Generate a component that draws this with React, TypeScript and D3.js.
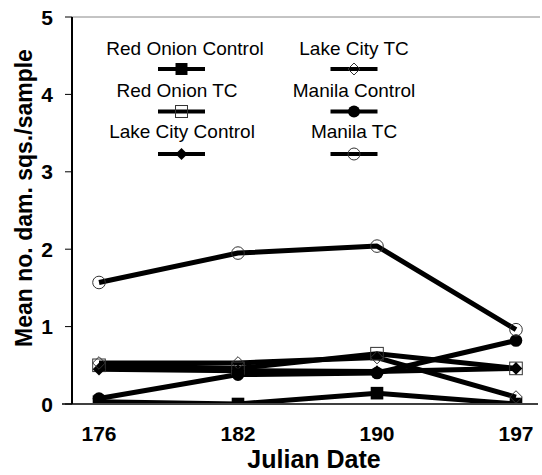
import React from "react";
import * as d3 from "d3";

const dates = ["176", "182", "190", "197"];
const yTicks = [0, 1, 2, 3, 4, 5];

const redOnionControl = [0.03, 0.0, 0.14, 0.0];
const redOnionTC = [0.5, 0.46, 0.65, 0.46];
const lakeCityControl = [0.45, 0.43, 0.42, 0.46];
const lakeCityTC = [0.53, 0.53, 0.6, 0.09];
const manilaControl = [0.07, 0.38, 0.4, 0.82];
const manilaTC = [1.57, 1.95, 2.04, 0.96];

type Shape = "filledSquare" | "openSquare" | "filledDiamond" | "openDiamond" | "filledCircle" | "openCircle";

const seriesNames = ["Red Onion Control", "Red Onion TC", "Lake City Control", "Lake City TC", "Manila Control", "Manila TC"];
const seriesValues = [redOnionControl, redOnionTC, lakeCityControl, lakeCityTC, manilaControl, manilaTC];
const seriesShapes: Shape[] = ["filledSquare", "openSquare", "filledDiamond", "openDiamond", "filledCircle", "openCircle"];

const W = 542;
const H = 475;
const FONT = "'Liberation Sans', Arial, Helvetica, sans-serif";

function Marker({ shape, x, y, s = 1 }: { shape: Shape; x: number; y: number; s?: number }) {
  const r = 6.3 * s;
  const thin = { fill: "none", stroke: "#333", strokeWidth: 1 };
  switch (shape) {
    case "filledSquare":
      return <rect x={x - r} y={y - r} width={2 * r} height={2 * r} fill="#000" />;
    case "openSquare":
      return <rect x={x - r} y={y - r} width={2 * r} height={2 * r} {...thin} />;
    case "filledDiamond":
      return <path d={`M${x},${y - r}L${x + r},${y}L${x},${y + r}L${x - r},${y}Z`} fill="#000" />;
    case "openDiamond":
      return <path d={`M${x},${y - r}L${x + r},${y}L${x},${y + r}L${x - r},${y}Z`} {...thin} />;
    case "filledCircle":
      return <circle cx={x} cy={y} r={r} fill="#000" />;
    case "openCircle":
      return <circle cx={x} cy={y} r={r} {...thin} />;
  }
}

export default function App() {
  const x = d3.scalePoint<string>().domain(dates).range([99, 516]);
  const y = d3.scaleLinear().domain([0, 5]).range([404, 17]);
  const line = d3
    .line<number>()
    .x((_, i) => x(dates[i]) as number)
    .y((d) => y(d));

  const textCenters = [185, 177, 182, 354, 354, 354];
  const legendItems = seriesNames.map((name, i) => {
    const col = i < 3 ? 0 : 1;
    const row = i % 3;
    const cx = col === 0 ? 181.5 : 354;
    const ty = 55 + row * 41.5;
    const ly = 69 + row * 42.5;
    return { name, shape: seriesShapes[i], cx, tx: textCenters[i], ty, ly };
  });

  return (
    <svg width={W} height={H} style={{ position: "absolute", left: 0, top: 0, background: "#fff" }} fontFamily={FONT}>
      <defs>
        <clipPath id="plotClip">
          <rect x={73} y={0} width={W - 73} height={y(0) - 1} />
        </clipPath>
      </defs>
      <rect x={0} y={0} width={W} height={H} fill="#fff" />

      <g clipPath="url(#plotClip)">
        {seriesValues.map((vals, i) => (
          <path key={"l" + i} d={line(vals) ?? ""} fill="none" stroke="#000" strokeWidth={5} strokeLinejoin="round" />
        ))}
        {seriesValues.map((vals, i) => (
          <g key={"m" + i}>
            {vals.map((v, j) => (
              <Marker key={j} shape={seriesShapes[i]} x={x(dates[j]) as number} y={y(v)} />
            ))}
          </g>
        ))}
      </g>

      {/* top frame line */}
      <line x1={72} x2={540} y1={y(5)} y2={y(5)} stroke="#888" strokeWidth={1} />
      {/* x axis */}
      <line x1={62} x2={538} y1={y(0)} y2={y(0)} stroke="#000" strokeWidth={1.5} />
      {/* y axis */}
      <line x1={72} x2={72} y1={y(5)} y2={y(0)} stroke="#000" strokeWidth={2} />
      {yTicks.map((t) => (
        <g key={t}>
          <line x1={65} x2={72} y1={y(t)} y2={y(t)} stroke="#000" strokeWidth={1} />
          <text x={47} y={y(t)} dy="0.36em" textAnchor="middle" fontWeight="bold" fontSize={21}>
            {t}
          </text>
        </g>
      ))}
      {dates.map((d) => (
        <text key={d} x={x(d)} y={441} textAnchor="middle" fontWeight="bold" fontSize={21}>
          {d}
        </text>
      ))}
      <text x={314} y={468} textAnchor="middle" fontWeight="bold" fontSize={25}>
        Julian Date
      </text>
      <text
        transform={`translate(32,198) rotate(-90)`}
        textAnchor="middle"
        fontWeight="bold"
        fontSize={23}
      >
        Mean no. dam. sqs./sample
      </text>

      {/* legend */}
      {legendItems.map((it) => (
        <g key={it.name}>
          <text x={it.tx} y={it.ty} textAnchor="middle" fontSize={19}>
            {it.name}
          </text>
          <line x1={it.cx - 23.5} x2={it.cx + 23.5} y1={it.ly} y2={it.ly} stroke="#000" strokeWidth={4} />
          <Marker shape={it.shape} x={it.cx} y={it.ly} s={0.95} />
        </g>
      ))}
    </svg>
  );
}
